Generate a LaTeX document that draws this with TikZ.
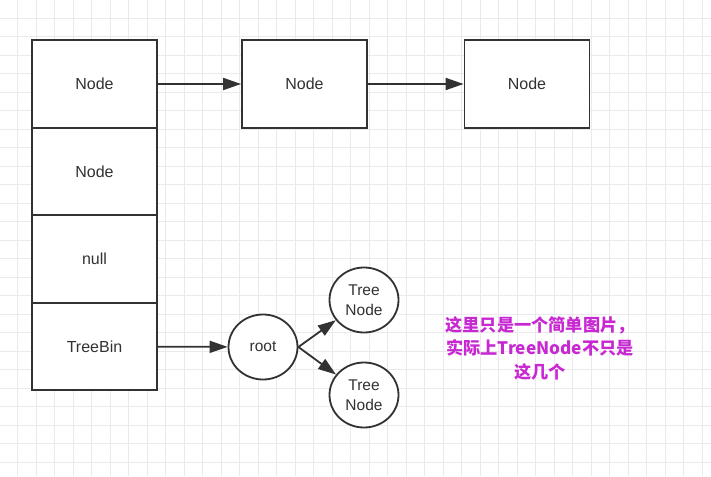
\documentclass[tikz,border=0pt]{standalone}
\usepackage{fontspec}
\setmainfont{Liberation Sans}
\newfontfamily\cjk{Noto Sans CJK SC}
\usetikzlibrary{arrows.meta, positioning, shapes.geometric}
\definecolor{gridGray}{RGB}{234,234,236}
\definecolor{lineDark}{RGB}{50,50,50}
\definecolor{noteMagenta}{RGB}{200,40,210}

\begin{document}
\begin{tikzpicture}[x=1pt, y=-1pt, >={Triangle[length=18pt,width=12pt]},
  line width=1.8pt, font=\fontsize{16}{19}\selectfont,
  cell/.style={draw=lineDark, fill=white, minimum width=125pt,
               minimum height=87.5pt, inner sep=0pt, text=lineDark},
  tnode/.style={ellipse, draw=lineDark, fill=white, minimum width=69pt,
                minimum height=65pt, inner sep=0pt, align=center,
                text=lineDark, font=\fontsize{15.5}{20}\selectfont}]

  \useasboundingbox (0,0) rectangle (711,476);
  \fill[white] (0,0) rectangle (711,476);
  \foreach \i in {0,...,38}
    \draw[gridGray,line width=0.8pt] (-1+18.5*\i,0) -- ++(0,476);
  \foreach \i in {0,...,26}
    \draw[gridGray,line width=0.8pt] (0,-0.5+18.5*\i) -- ++(711,0);

  % table column
  \node[cell] (bin0) at (94.5,84)    {Node};
  \node[cell] (bin1) at (94.5,171.5) {Node};
  \node[cell] (bin2) at (94.5,259)   {null};
  \node[cell] (bin3) at (94.5,346.5) {TreeBin};

  % linked list
  \node[cell] (list1) at (304.5,84) {Node};
  \node[cell] (list2) at (527,84)   {Node};
  \draw[->,lineDark] (bin0) -- (list1);
  \draw[->,lineDark] (list1) -- (list2);

  % tree
  \node[tnode] (root)  at (263,347) {root};
  \node[tnode] (tree1) at (364,300) {Tree\\Node};
  \node[tnode] (tree2) at (364,395) {Tree\\Node};
  \draw[->,lineDark] (bin3) -- (root);
  \draw[->,lineDark] (root.east) -- (tree1);
  \draw[->,lineDark] (root.east) -- (tree2);

  \node[align=center, text=noteMagenta, font=\cjk\bfseries\fontsize{17.2}{23.5}\selectfont]
    (note) at (540,348) {这里只是一个简单图片，\\实际上TreeNode不只是\\这几个};

\end{tikzpicture}
\end{document}
